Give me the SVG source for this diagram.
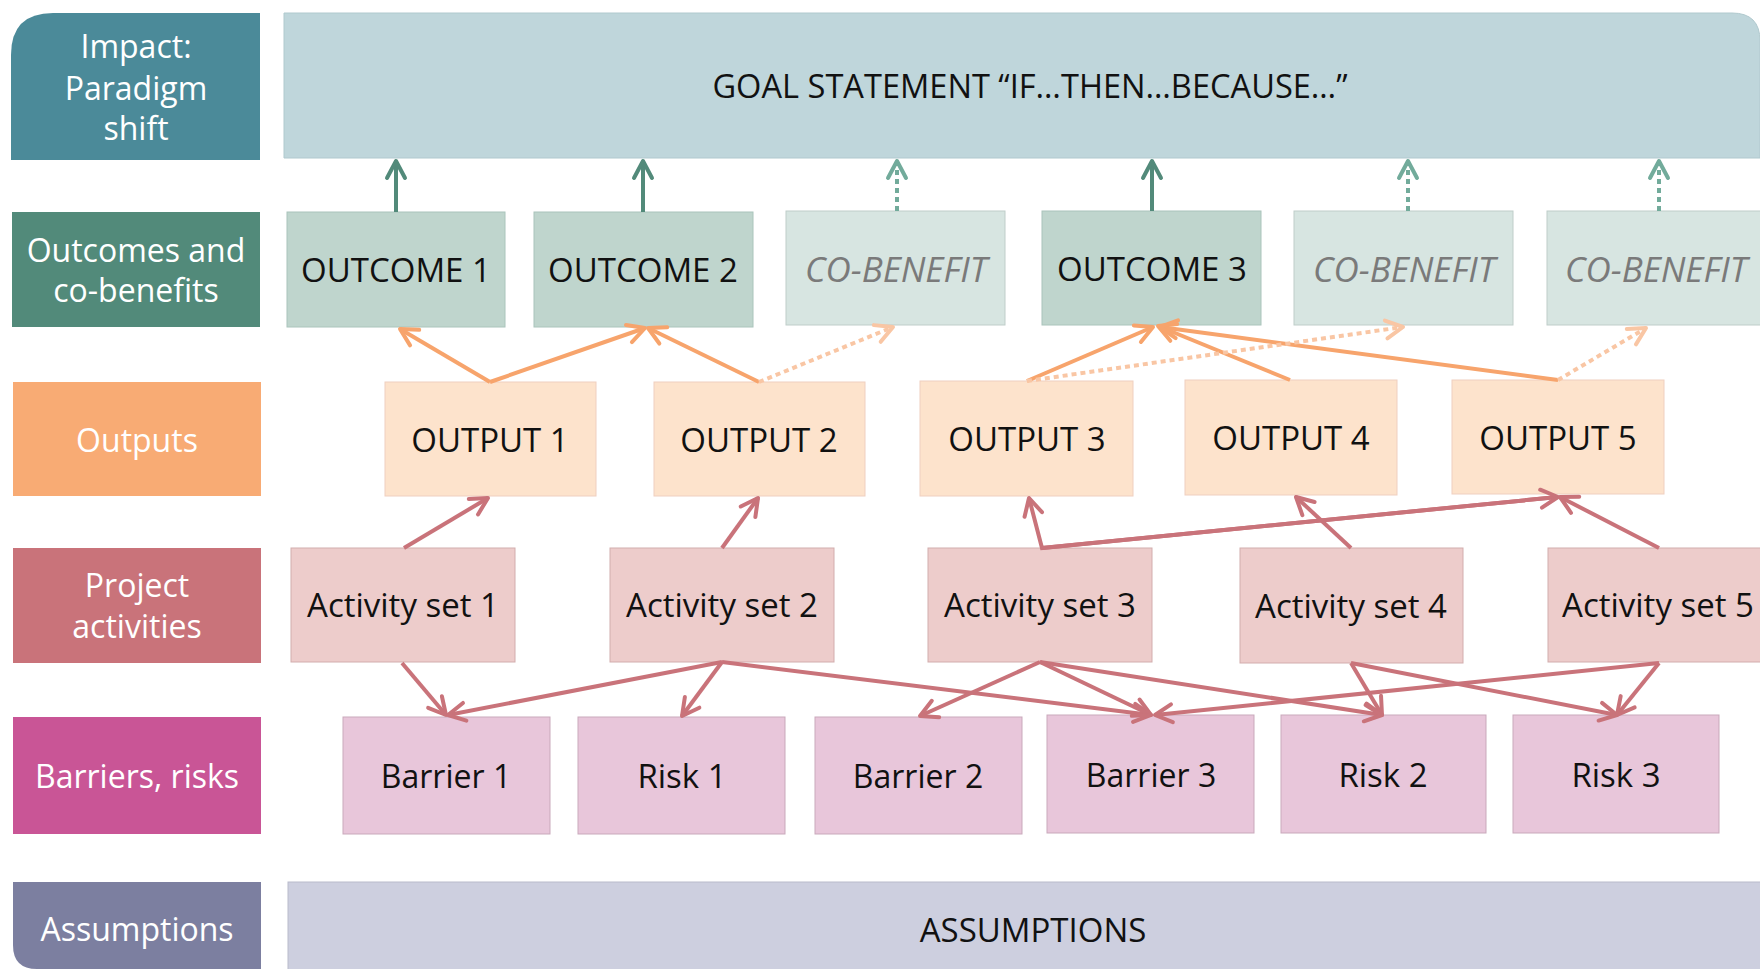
<svg xmlns="http://www.w3.org/2000/svg" width="1760" height="969" viewBox="0 0 1760 969">
<style>
text{font-family:"Open Sans","Noto Sans","DejaVu Sans",sans-serif;text-anchor:middle}
.lbl{fill:#ffffff;font-size:32px}
.nt{fill:#111111;font-size:33px}
.bt{fill:#111111;font-size:32px}
.cb{fill:#7a7a7a;font-size:35px;font-style:italic}
.oc{fill:#bfd5cd;stroke:#aac4bb;stroke-width:1}
.cbx{fill:#d7e5e1;stroke:#bfcdc9;stroke-width:1}
.op{fill:#fde3cc;stroke:#efcfc0;stroke-width:1}
.ac{fill:#edcccb;stroke:#d2adad;stroke-width:1}
.br{fill:#e8c6da;stroke:#c9a9bb;stroke-width:1}
.g{stroke:#528a7a;stroke-width:4;fill:none}
.gd{stroke:#72ab9b;stroke-width:4;fill:none;stroke-dasharray:5 4}
.o{stroke:#f7a46c;stroke-width:4;fill:none}
.od{stroke:#f9c6a4;stroke-width:4;fill:none;stroke-dasharray:5 4}
.r{stroke:#c9737a;stroke-width:4;fill:none}
</style>
<defs>
<marker id="mg" viewBox="-20 -12 24 24" markerWidth="24" markerHeight="24" refX="0" refY="0" orient="auto" markerUnits="userSpaceOnUse"><path d="M-17,-9 L0,0 L-17,9" fill="none" stroke="#528a7a" stroke-width="4" stroke-linecap="round" stroke-linejoin="round"/></marker>
<marker id="mgd" viewBox="-20 -12 24 24" markerWidth="24" markerHeight="24" refX="0" refY="0" orient="auto" markerUnits="userSpaceOnUse"><path d="M-17,-9 L0,0 L-17,9" fill="none" stroke="#72ab9b" stroke-width="4" stroke-linecap="round" stroke-linejoin="round"/></marker>
<marker id="mo" viewBox="-20 -12 24 24" markerWidth="24" markerHeight="24" refX="0" refY="0" orient="auto" markerUnits="userSpaceOnUse"><path d="M-17,-9 L0,0 L-17,9" fill="none" stroke="#f7a46c" stroke-width="4" stroke-linecap="round" stroke-linejoin="round"/></marker>
<marker id="mod" viewBox="-20 -12 24 24" markerWidth="24" markerHeight="24" refX="0" refY="0" orient="auto" markerUnits="userSpaceOnUse"><path d="M-17,-9 L0,0 L-17,9" fill="none" stroke="#f9c6a4" stroke-width="4" stroke-linecap="round" stroke-linejoin="round"/></marker>
<marker id="mr" viewBox="-20 -12 24 24" markerWidth="24" markerHeight="24" refX="0" refY="0" orient="auto" markerUnits="userSpaceOnUse"><path d="M-17,-9 L0,0 L-17,9" fill="none" stroke="#c9737a" stroke-width="4" stroke-linecap="round" stroke-linejoin="round"/></marker>
</defs>
<rect width="1760" height="969" fill="#ffffff"/>

<g id="label-impact">
<path d="M11,160 L11,55 Q11,13 53,13 L260,13 L260,160 Z" fill="#4b8a99"/>
<text class="lbl" x="136" y="58">Impact:</text>
<text class="lbl" x="136" y="100">Paradigm</text>
<text class="lbl" x="136" y="140">shift</text>
</g>
<g id="goal">
<path d="M284,13 L1732,13 Q1760,13 1760,41 L1760,158 L284,158 Z" fill="#bfd6db" stroke="#b0c9ce" stroke-width="1"/>
<text class="nt" x="1030" y="98" style="font-size:32.6px">GOAL STATEMENT “IF…THEN…BECAUSE…”</text>
</g>

<g id="label-outcomes">
<rect x="12" y="212" width="248" height="115" fill="#528a7a"/>
<text class="lbl" x="136" y="262">Outcomes and</text>
<text class="lbl" x="136" y="302">co-benefits</text>
</g>
<g id="outcome1"><rect class="oc" x="287" y="212" width="218" height="115"/><text class="nt" x="396" y="282">OUTCOME 1</text></g>
<g id="outcome2"><rect class="oc" x="534" y="212" width="219" height="115"/><text class="nt" x="643" y="282">OUTCOME 2</text></g>
<g id="cobenefit1"><rect class="cbx" x="786" y="211" width="219" height="114"/><text class="cb" x="896" y="282">CO-BENEFIT</text></g>
<g id="outcome3"><rect class="oc" x="1042" y="211" width="219" height="114"/><text class="nt" x="1152" y="281">OUTCOME 3</text></g>
<g id="cobenefit2"><rect class="cbx" x="1294" y="211" width="219" height="114"/><text class="cb" x="1404" y="282">CO-BENEFIT</text></g>
<g id="cobenefit3"><rect class="cbx" x="1547" y="211" width="230" height="114"/><text class="cb" x="1656" y="282">CO-BENEFIT</text></g>

<g id="label-outputs">
<rect x="13" y="382" width="248" height="114" fill="#f8ab74"/>
<text class="lbl" x="137" y="452">Outputs</text>
</g>
<g id="output1"><rect class="op" x="385" y="382" width="211" height="114"/><text class="nt" x="490" y="452">OUTPUT 1</text></g>
<g id="output2"><rect class="op" x="654" y="382" width="211" height="114"/><text class="nt" x="759" y="452">OUTPUT 2</text></g>
<g id="output3"><rect class="op" x="920" y="381" width="213" height="115"/><text class="nt" x="1027" y="451">OUTPUT 3</text></g>
<g id="output4"><rect class="op" x="1185" y="380" width="212" height="115"/><text class="nt" x="1291" y="450">OUTPUT 4</text></g>
<g id="output5"><rect class="op" x="1452" y="380" width="212" height="114"/><text class="nt" x="1558" y="450">OUTPUT 5</text></g>

<g id="label-activities">
<rect x="13" y="548" width="248" height="115" fill="#c9737a"/>
<text class="lbl" x="137" y="597">Project</text>
<text class="lbl" x="137" y="638">activities</text>
</g>
<g id="activity1"><rect class="ac" x="291" y="548" width="224" height="114"/><text class="nt" x="403" y="617">Activity set 1</text></g>
<g id="activity2"><rect class="ac" x="610" y="548" width="224" height="114"/><text class="nt" x="722" y="617">Activity set 2</text></g>
<g id="activity3"><rect class="ac" x="928" y="548" width="224" height="114"/><text class="nt" x="1040" y="617">Activity set 3</text></g>
<g id="activity4"><rect class="ac" x="1240" y="548" width="223" height="115"/><text class="nt" x="1351" y="618">Activity set 4</text></g>
<g id="activity5"><rect class="ac" x="1548" y="548" width="230" height="114"/><text class="nt" x="1658" y="617">Activity set 5</text></g>

<g id="label-barriers">
<rect x="13" y="717" width="248" height="117" fill="#c95596"/>
<text class="lbl" x="137" y="788">Barriers, risks</text>
</g>
<g id="barrier1"><rect class="br" x="343" y="717" width="207" height="117"/><text class="bt" x="446" y="788">Barrier 1</text></g>
<g id="risk1"><rect class="br" x="578" y="717" width="207" height="117"/><text class="nt" x="682" y="788">Risk 1</text></g>
<g id="barrier2"><rect class="br" x="815" y="717" width="207" height="117"/><text class="bt" x="918" y="788">Barrier 2</text></g>
<g id="barrier3"><rect class="br" x="1047" y="715" width="207" height="118"/><text class="bt" x="1151" y="787">Barrier 3</text></g>
<g id="risk2"><rect class="br" x="1281" y="715" width="205" height="118"/><text class="nt" x="1383" y="787">Risk 2</text></g>
<g id="risk3"><rect class="br" x="1513" y="715" width="206" height="118"/><text class="nt" x="1616" y="787">Risk 3</text></g>

<g id="label-assumptions">
<path d="M13,882 L261,882 L261,969 L37,969 Q13,969 13,945 Z" fill="#7c7fa0"/>
<text class="lbl" x="137" y="941">Assumptions</text>
</g>
<g id="assumptions">
<rect x="288" y="882" width="1480" height="100" fill="#cdcfdf" stroke="#b9bbcb" stroke-width="1"/>
<text class="nt" x="1033" y="942">ASSUMPTIONS</text>
</g>

<g id="connectors">
<line class="g" x1="396" y1="212" x2="396" y2="161" marker-end="url(#mg)"/>
<line class="g" x1="643" y1="212" x2="643" y2="161" marker-end="url(#mg)"/>
<line class="g" x1="1152" y1="211" x2="1152" y2="161" marker-end="url(#mg)"/>
<line class="gd" x1="897" y1="211" x2="897" y2="161" marker-end="url(#mgd)"/>
<line class="gd" x1="1408" y1="211" x2="1408" y2="161" marker-end="url(#mgd)"/>
<line class="gd" x1="1659" y1="211" x2="1659" y2="161" marker-end="url(#mgd)"/>

<line class="o" x1="490" y1="382" x2="400" y2="329" marker-end="url(#mo)"/>
<line class="o" x1="490" y1="382" x2="645" y2="328" marker-end="url(#mo)"/>
<line class="o" x1="759" y1="382" x2="648" y2="328" marker-end="url(#mo)"/>
<line class="o" x1="1027" y1="381" x2="1153" y2="327" marker-end="url(#mo)"/>
<line class="o" x1="1290" y1="380" x2="1158" y2="326" marker-end="url(#mo)"/>
<line class="o" x1="1558" y1="380" x2="1160" y2="327" marker-end="url(#mo)"/>
<line class="od" x1="759" y1="382" x2="893" y2="327" marker-end="url(#mod)"/>
<line class="od" x1="1027" y1="381" x2="1403" y2="327" marker-end="url(#mod)"/>
<line class="od" x1="1558" y1="380" x2="1646" y2="328" marker-end="url(#mod)"/>

<line class="r" x1="404" y1="548" x2="488" y2="498" marker-end="url(#mr)"/>
<line class="r" x1="722" y1="548" x2="758" y2="498" marker-end="url(#mr)"/>
<polyline class="r" points="1558,497 1042,548 1029,498" marker-end="url(#mr)"/>
<line class="r" x1="1042" y1="548" x2="1558" y2="497" marker-end="url(#mr)"/>
<line class="r" x1="1351" y1="548" x2="1296" y2="497" marker-end="url(#mr)"/>
<line class="r" x1="1659" y1="548" x2="1560" y2="497" marker-end="url(#mr)"/>

<line class="r" x1="402" y1="663" x2="446" y2="715" marker-end="url(#mr)"/>
<line class="r" x1="722" y1="662" x2="448" y2="715" marker-end="url(#mr)"/>
<line class="r" x1="722" y1="662" x2="682" y2="716" marker-end="url(#mr)"/>
<line class="r" x1="722" y1="662" x2="1151" y2="715" marker-end="url(#mr)"/>
<line class="r" x1="1040" y1="662" x2="920" y2="716" marker-end="url(#mr)"/>
<line class="r" x1="1040" y1="662" x2="1151" y2="715" marker-end="url(#mr)"/>
<line class="r" x1="1040" y1="662" x2="1382" y2="715" marker-end="url(#mr)"/>
<line class="r" x1="1351" y1="663" x2="1382" y2="715" marker-end="url(#mr)"/>
<line class="r" x1="1351" y1="663" x2="1617" y2="715" marker-end="url(#mr)"/>
<line class="r" x1="1659" y1="663" x2="1617" y2="715" marker-end="url(#mr)"/>
<line class="r" x1="1659" y1="663" x2="1155" y2="715" marker-end="url(#mr)"/>
</g>
</svg>
